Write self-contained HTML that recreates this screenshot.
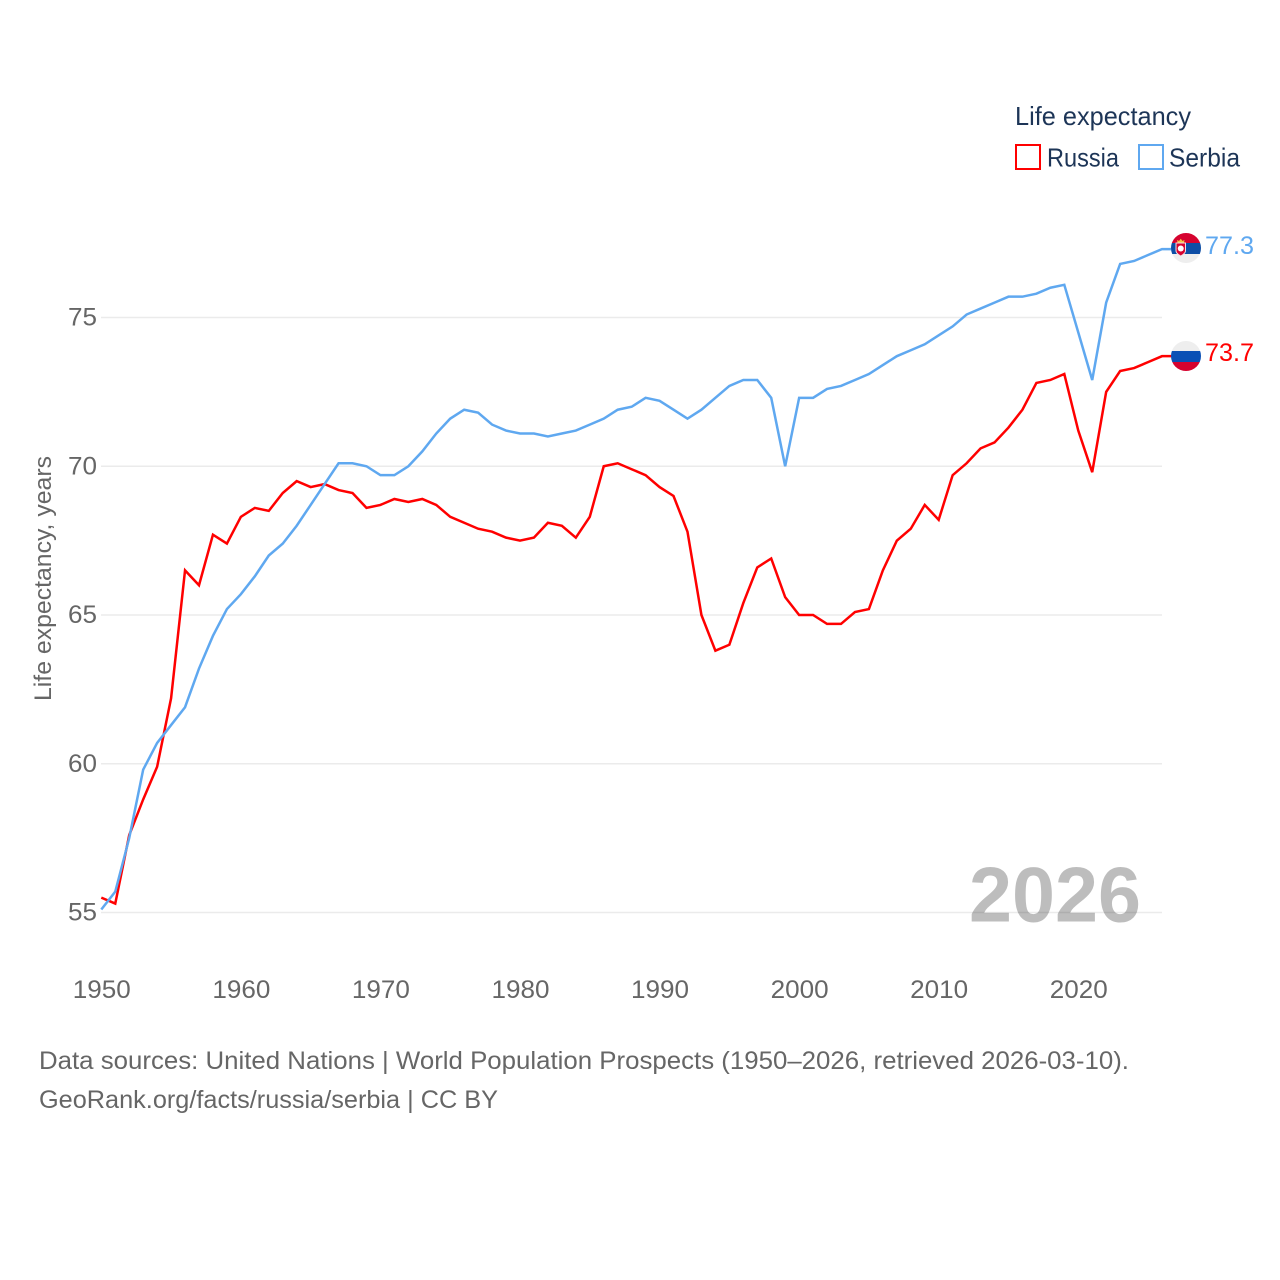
<!DOCTYPE html>
<html lang="en">
<head>
<meta charset="utf-8">
<title>Life expectancy: Russia and Serbia</title>
<style>
html,body{margin:0;padding:0;background:#fff;width:1280px;height:1280px;overflow:hidden}
svg{display:block;font-family:"Liberation Sans",sans-serif}
</style>
</head>
<body>
<svg id="chart" width="1280" height="1280" viewBox="0 0 1280 1280" xmlns="http://www.w3.org/2000/svg">
  <defs>
    <clipPath id="clip-serbia"><circle cx="1186" cy="248" r="15"/></clipPath>
    <clipPath id="clip-russia"><circle cx="1186" cy="356" r="15"/></clipPath>
  </defs>
  <rect x="0" y="0" width="1280" height="1280" fill="#fff"/>
  <g id="grid"></g>
  <g id="yticks"></g>
  <g id="xticks"></g>
  <text transform="translate(51,701) rotate(-90)" font-size="24" fill="#666" textLength="245" lengthAdjust="spacingAndGlyphs">Life expectancy, years</text>
  <text x="969" y="921.500" font-size="78" font-weight="700" fill="#000" fill-opacity="0.26" textLength="172" lengthAdjust="spacingAndGlyphs">2026</text>
  <g id="lines"></g>
  <g clip-path="url(#clip-serbia)">
    <rect x="1171" y="233" width="30" height="30" fill="#eeeeee"/>
    <rect x="1171" y="233" width="30" height="10" fill="#d6032f"/>
    <rect x="1171" y="243" width="30" height="11" fill="#0d4ea6"/>
    <path d="M1175.500 242.500h10.500v8c0 3-3 4.500-5.250 6c-2.250-1.500-5.250-3-5.250-6z" fill="#f4dfe2"/>
    <path d="M1176.500 243.500h8.500v7c0 2.500-2.500 3.800-4.250 5c-1.750-1.200-4.250-2.500-4.250-5z" fill="#d6032f"/>
    <circle cx="1180.750" cy="248.500" r="3" fill="#fff"/>
    <path d="M1177.500 242.500l-.5-2.500l2 1l1.750-2.200l1.750 2.200l2-1l-.5 2.500z" fill="#f6c445"/>
  </g>
  <g clip-path="url(#clip-russia)">
    <rect x="1171" y="341" width="30" height="10" fill="#eeeeee"/>
    <rect x="1171" y="351" width="30" height="11" fill="#0a50b5"/>
    <rect x="1171" y="362" width="30" height="9" fill="#d6032f"/>
  </g>
  <text x="1205" y="254" font-size="25" fill="#5fa8f0" textLength="49" lengthAdjust="spacingAndGlyphs">77.3</text>
  <text x="1205" y="361" font-size="25" fill="#ff0000" textLength="49" lengthAdjust="spacingAndGlyphs">73.7</text>
  <g>
    <text x="1015" y="125" font-size="26" fill="#1d3557" textLength="176" lengthAdjust="spacingAndGlyphs">Life expectancy</text>
    <rect x="1016" y="145" width="24" height="24" fill="#fff" stroke="#ff0000" stroke-width="2"/>
    <text x="1047" y="166.500" font-size="26" fill="#1d3557" textLength="72" lengthAdjust="spacingAndGlyphs">Russia</text>
    <rect x="1139" y="145" width="24" height="24" fill="#fff" stroke="#5fa8f0" stroke-width="2"/>
    <text x="1169" y="166.500" font-size="26" fill="#1d3557" textLength="71" lengthAdjust="spacingAndGlyphs">Serbia</text>
  </g>
  <text x="39" y="1069" font-size="25" fill="#666" textLength="1090" lengthAdjust="spacingAndGlyphs">Data sources: United Nations | World Population Prospects (1950–2026, retrieved 2026-03-10).</text>
  <text x="39" y="1108" font-size="25" fill="#666" textLength="459" lengthAdjust="spacingAndGlyphs">GeoRank.org/facts/russia/serbia | CC BY</text>
</svg>
<script>
const years = [1950,1951,1952,1953,1954,1955,1956,1957,1958,1959,1960,1961,1962,1963,1964,1965,1966,1967,1968,1969,1970,1971,1972,1973,1974,1975,1976,1977,1978,1979,1980,1981,1982,1983,1984,1985,1986,1987,1988,1989,1990,1991,1992,1993,1994,1995,1996,1997,1998,1999,2000,2001,2002,2003,2004,2005,2006,2007,2008,2009,2010,2011,2012,2013,2014,2015,2016,2017,2018,2019,2020,2021,2022,2023,2024,2025,2026];
const russia = [55.5,55.3,57.6,58.8,59.9,62.2,66.5,66.0,67.7,67.4,68.3,68.6,68.5,69.1,69.5,69.3,69.4,69.2,69.1,68.6,68.7,68.9,68.8,68.9,68.7,68.3,68.1,67.9,67.8,67.6,67.5,67.6,68.1,68.0,67.6,68.3,70.0,70.1,69.9,69.7,69.3,69.0,67.8,65.0,63.8,64.0,65.4,66.6,66.9,65.6,65.0,65.0,64.7,64.7,65.1,65.2,66.5,67.5,67.9,68.7,68.2,69.7,70.1,70.6,70.8,71.3,71.9,72.8,72.9,73.1,71.2,69.8,72.5,73.2,73.3,73.5,73.7];
const serbia = [55.1,55.7,57.5,59.8,60.7,61.3,61.9,63.2,64.3,65.2,65.7,66.3,67.0,67.4,68.0,68.7,69.4,70.1,70.1,70.0,69.7,69.7,70.0,70.5,71.1,71.6,71.9,71.8,71.4,71.2,71.1,71.1,71.0,71.1,71.2,71.4,71.6,71.9,72.0,72.3,72.2,71.9,71.6,71.9,72.3,72.7,72.9,72.9,72.3,70.0,72.3,72.3,72.6,72.7,72.9,73.1,73.4,73.7,73.9,74.1,74.4,74.7,75.1,75.3,75.5,75.7,75.7,75.8,76.0,76.1,74.5,72.9,75.5,76.8,76.9,77.1,77.3];
const yTickValues = [55,60,65,70,75];
const xTickValues = [1950,1960,1970,1980,1990,2000,2010,2020];

const NS = 'http://www.w3.org/2000/svg';
function xScale(year){ return 101.3 + (year - 1950) * (1060.7 / 76); }
function yScale(value){ return 912.5 - (value - 55) * 29.75; }
function make(tag, attrs, parent, text){
  const el = document.createElementNS(NS, tag);
  for (const k in attrs) el.setAttribute(k, attrs[k]);
  if (text !== undefined) el.textContent = text;
  parent.appendChild(el);
  return el;
}
const grid = document.getElementById('grid');
const yticks = document.getElementById('yticks');
const xticks = document.getElementById('xticks');
const lines = document.getElementById('lines');

yTickValues.forEach(function(v){
  const g = make('line', {x1:101, x2:1162, y1:yScale(v), y2:yScale(v), stroke:'#ebebeb', 'stroke-width':1.5}, grid);
  
  
  const t = make('text', {x:97, y:yScale(v) + 8, 'font-size':25, fill:'#666', 'text-anchor':'end', textLength:29, lengthAdjust:'spacingAndGlyphs'}, yticks, String(v));
  
  
});
xTickValues.forEach(function(v){
  const t = make('text', {x:xScale(v) + 0.5, y:998, 'font-size':25, fill:'#666', 'text-anchor':'middle', textLength:58, lengthAdjust:'spacingAndGlyphs'}, xticks, String(v));
  
  
});
function drawSeries(values, color, name){
  const pts = values.map(function(v, i){ return xScale(years[i]).toFixed(2) + ',' + yScale(v).toFixed(2); });
  const last = values[values.length - 1];
  pts.push('1172,' + yScale(last).toFixed(2));
  const p = make('polyline', {points:pts.join(' '), fill:'none', stroke:color, 'stroke-width':2.5, 'stroke-linejoin':'miter'}, lines);
  
  
}
drawSeries(russia, '#ff0000', 'russia-line');
drawSeries(serbia, '#5fa8f0', 'serbia-line');
</script>
</body>
</html>
